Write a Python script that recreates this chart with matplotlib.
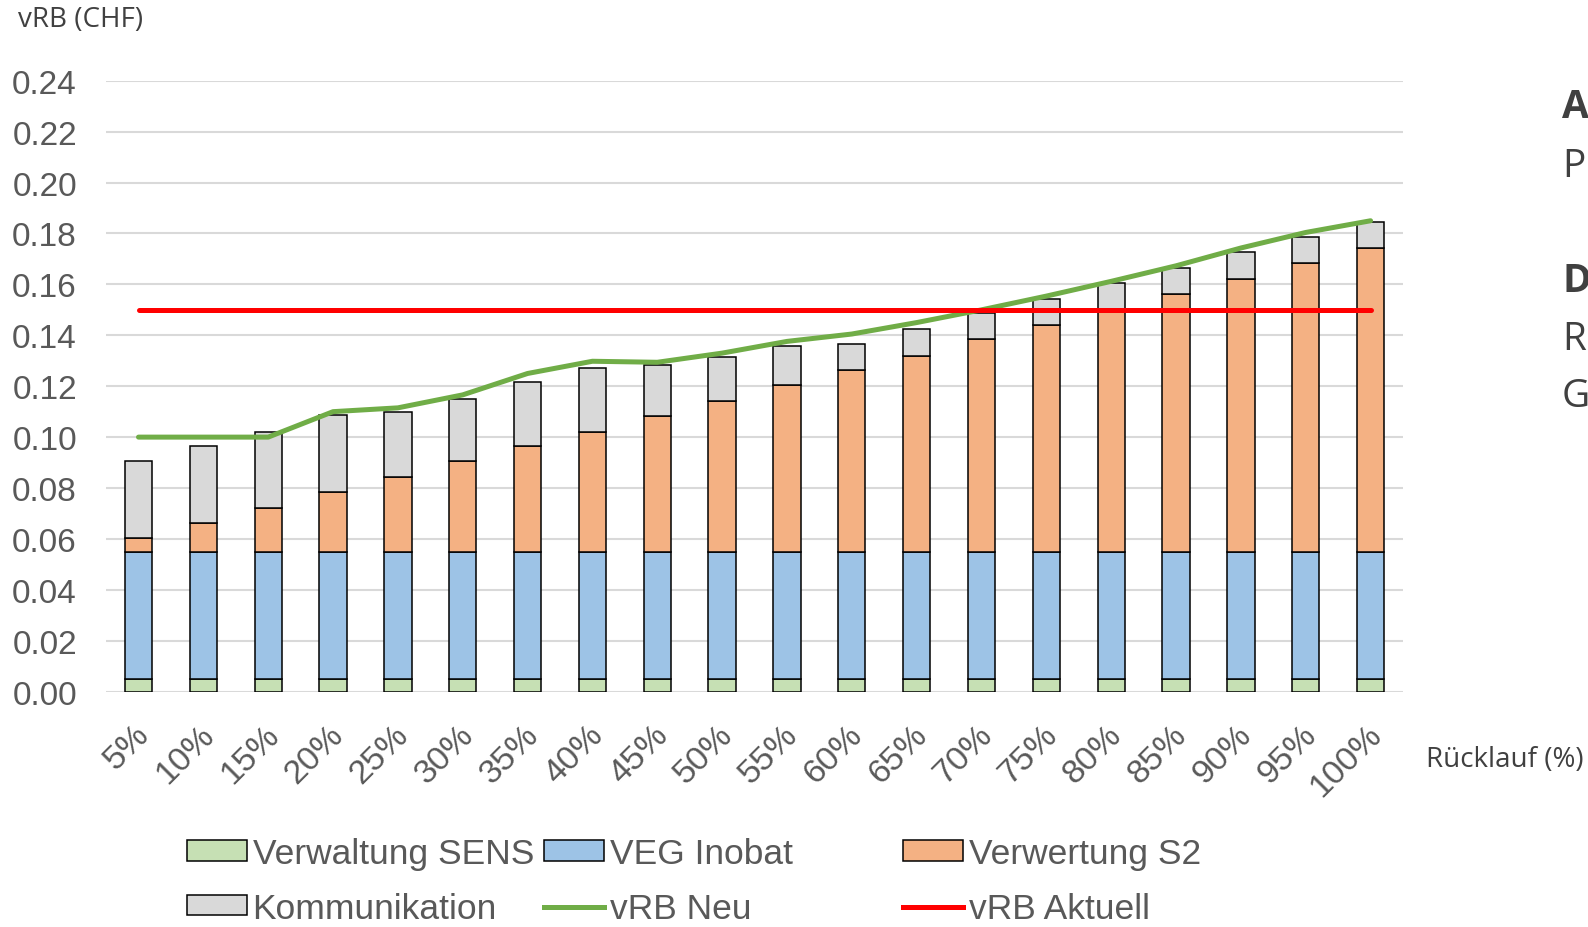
import numpy as np
import matplotlib.pyplot as plt
import matplotlib.transforms as mtrans
from matplotlib.patches import Patch
from matplotlib.lines import Line2D

# Daten
ruecklauf = ['5%', '10%', '15%', '20%', '25%', '30%', '35%', '40%', '45%', '50%',
             '55%', '60%', '65%', '70%', '75%', '80%', '85%', '90%', '95%', '100%']
verwaltung_sens = [0.005] * 20
veg_inobat = [0.050] * 20
verwertung_s2 = [0.0055, 0.0114, 0.0172, 0.0235, 0.0295, 0.0358, 0.0415, 0.0469, 0.0534, 0.0591,
                 0.0656, 0.0714, 0.0770, 0.0835, 0.0892, 0.0950, 0.1013, 0.1071, 0.1135, 0.1193]
kommunikation = [0.0301, 0.0301, 0.0297, 0.0303, 0.0252, 0.0243, 0.0253, 0.0254, 0.0198, 0.0172,
                 0.0152, 0.0103, 0.0103, 0.0101, 0.0099, 0.0104, 0.0102, 0.0105, 0.0103, 0.0102]
vrb_neu = [0.100, 0.100, 0.100, 0.110, 0.1115, 0.1166, 0.125, 0.1298, 0.1294, 0.133,
           0.1376, 0.1405, 0.145, 0.150, 0.1554, 0.1612, 0.1673, 0.1743, 0.1804, 0.185]
vrb_aktuell = [0.15] * 20

plt.rcParams['font.family'] = ['Liberation Sans', 'DejaVu Sans']

fig = plt.figure(figsize=(15.88, 9.28), dpi=100)
ax = fig.add_axes([0.0668, 0.2536, 0.8167, 0.6583])

x = np.arange(len(ruecklauf))
w = 0.42
farben = ['#C6E0B4', '#9DC3E6', '#F4B183', '#D9D9D9']
serien = [verwaltung_sens, veg_inobat, verwertung_s2, kommunikation]
bottom = np.zeros(len(x))
for werte, farbe in zip(serien, farben):
    ax.bar(x, werte, w, bottom=bottom, color=farbe, edgecolor='black', linewidth=1.1, zorder=2)
    bottom += np.array(werte)

ax.plot(x, vrb_neu, color='#70AD47', lw=3.6, solid_capstyle='round', zorder=3)
ax.plot(x, vrb_aktuell, color='#FF0000', lw=3.6, solid_capstyle='round', zorder=4)

ax.set_xlim(-0.5, len(x) - 0.5)
ax.set_ylim(0, 0.24)
ax.set_yticks(np.arange(0, 0.2401, 0.02))
ax.set_yticklabels([f'{v:.2f}' for v in np.arange(0, 0.2401, 0.02)])
ax.yaxis.grid(True, color='#D9D9D9', lw=1.5)
ax.set_axisbelow(True)
for s in ax.spines.values():
    s.set_visible(False)
ax.tick_params(axis='y', length=0, pad=21, labelsize=24, labelcolor='#595959')
ax.tick_params(axis='x', length=0, pad=30, labelsize=24.5, labelcolor='#595959')
ax.set_xticks(x)
ax.set_xticklabels(ruecklauf, rotation=45, ha='right', va='center', rotation_mode='anchor')
verschiebung = mtrans.ScaledTranslation(6 / 100, 4 / 100, fig.dpi_scale_trans)
for lab in ax.get_xticklabels():
    lab.set_transform(lab.get_transform() + verschiebung)

# Achsentitel
fig.text(18 / 1588, 1 - 20 / 928, 'vRB (CHF)', family='Open Sans', fontsize=20,
         color='#404040', va='center', ha='left')
fig.text(1426 / 1588, 1 - 760 / 928, 'Rücklauf (%)', family='Open Sans', fontsize=20,
         color='#404040', va='center', ha='left')

# abgeschnittener Folientext rechts
for buchst, yb, fett in [('A', 118, True), ('P', 177, False), ('D', 292, True),
                         ('R', 350, False), ('G', 407, False)]:
    fig.text(1562 / 1588, 1 - yb / 928, buchst, family='Open Sans', fontsize=28,
             color='#404040', weight='bold' if fett else 'normal', va='baseline', ha='left')

# Legende in drei Spalten
def patch(c):
    return Patch(facecolor=c, edgecolor='black', linewidth=1.1)

spalten = [
    ([patch(farben[0]), patch(farben[3])], ['Verwaltung SENS', 'Kommunikation'], 187),
    ([patch(farben[1]), Line2D([], [], color='#70AD47', lw=3.6)], ['VEG Inobat', 'vRB Neu'], 544),
    ([patch(farben[2]), Line2D([], [], color='#FF0000', lw=3.6)], ['Verwertung S2', 'vRB Aktuell'], 903),
]
for handles, labels, xpos in spalten:
    fig.legend(handles, labels, loc='upper left', bbox_to_anchor=(xpos / 1588, 1 - 838 / 928),
               frameon=False, fontsize=25.5, labelcolor='#595959', borderpad=0, borderaxespad=0,
               handlelength=1.7, handleheight=0.5, handletextpad=0.15, labelspacing=0.62)

fig.savefig('out.png', dpi=100)
